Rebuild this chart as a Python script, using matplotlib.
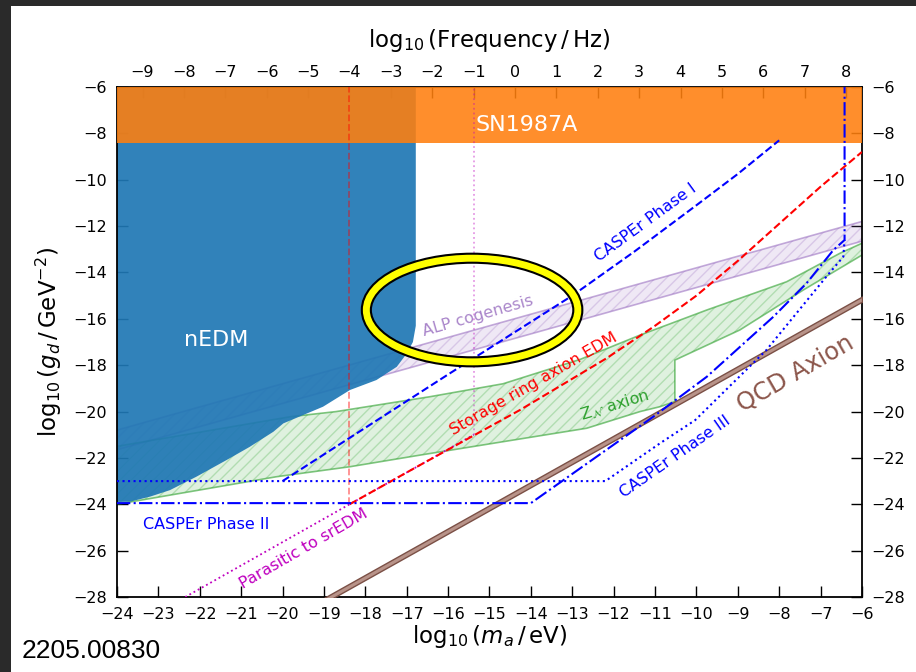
import numpy as np
import matplotlib.pyplot as plt
from matplotlib.patches import Ellipse, Rectangle

# conversion log10(m/eV) -> log10(f/Hz)
EV_TO_HZ = 14.383

# SN1987A band
sn_m = [-24, -6]
sn_low = -8.43
sn_high = -6

# nEDM excluded region
nedm_m = [-24, -16.78, -16.78, -16.85, -17.0, -17.24, -17.73, -18.37, -19.02, -19.5,
          -19.98, -20.22, -20.79, -21.35, -22.08, -22.72, -23.2, -23.69, -24]
nedm_g = [-6, -6, -16.3, -17.0, -17.5, -18.07, -18.64, -19.07, -19.79, -20.15,
          -20.51, -20.87, -21.52, -22.09, -22.81, -23.39, -23.67, -23.89, -23.9]

# ALP cogenesis band
alp_m = [-24, -6]
alp_up = [-20.8, -11.8]
alp_low = [-21.65, -12.65]

# Z_N axion band
zn_up_m = [-24, -19.8, -18.7, -16.44, -14.67, -12.81, -11.36, -9.75, -7.82, -6.53, -6]
zn_up_g = [-21.5, -20.22, -20.0, -19.36, -18.8, -17.75, -16.7, -15.62, -14.4, -13.17, -12.74]
zn_low_m = [-24, -20.14, -18.37, -16.68, -14.67, -12.65, -11.36, -10.88, -10.52, -10.52,
            -8.95, -7.42, -6]
zn_low_g = [-24.0, -22.81, -22.38, -21.88, -21.3, -20.72, -20.0, -19.79, -19.57, -17.78,
            -16.48, -14.76, -13.25]

# CASPEr projections
ph1_m = [-20, -16, -13, -11.5, -10, -9, -8]
ph1_g = [-23, -18.4, -15.0, -13.1, -11.1, -9.75, -8.3]
ph2_m = [-24, -14, -11.04, -9.75, -8.14, -7.34, -6.69, -6.42, -6.42]
ph2_g = [-23.95, -23.95, -20.22, -18.5, -15.91, -14.47, -13.03, -12.6, -6]
ph3_m = [-24, -12.2, -10.88, -10.03, -8.31, -6.86, -6.45, -6.42]
ph3_g = [-23, -23, -21.37, -20.37, -17.35, -14.18, -13.32, -12.6]

# storage ring axion EDM
sr_m = [-18.38, -16.68, -14.26, -12.17, -11, -10, -9, -8, -7, -6]
sr_g = [-24, -22.31, -19.93, -17.7, -16.3, -15.0, -13.5, -11.9, -10.3, -8.8]

# parasitic to srEDM
par_m = [-22.35, -18.38, -16.68, -15.38]
par_g = [-28, -24, -22.31, -21.0]
f_lo = -4   # log10(f/Hz) of frequency markers
f_hi = -1

# QCD axion line: g = m + offset
qcd_m = [-24, -6]
qcd_offset = -9.15
qcd_halfwidth = 0.11

fig = plt.figure(figsize=(9.16, 6.72), dpi=100, facecolor='#2a2a2a')
fig.add_artist(Rectangle((11/916, 0), 905/916, 666/672, transform=fig.transFigure,
                         facecolor='white', edgecolor='none', zorder=-10))
ax = fig.add_axes([0.1277, 0.1116, 0.8133, 0.7589])
ax.set_axisbelow(True)

# bands
ax.fill_between(alp_m, alp_low, alp_up, facecolor=(0.58, 0.40, 0.74, 0.15),
                edgecolor=(0.58, 0.40, 0.74, 0.25), hatch='///', linewidth=0, zorder=1)
ax.plot(alp_m, alp_up, color='tab:purple', alpha=0.55, lw=1.2, zorder=1.1)
ax.plot(alp_m, alp_low, color='tab:purple', alpha=0.55, lw=1.2, zorder=1.1)

zn_m = zn_up_m + zn_low_m[::-1]
zn_g = zn_up_g + zn_low_g[::-1]
ax.fill(zn_m, zn_g, facecolor=(0.17, 0.63, 0.17, 0.15),
        edgecolor=(0.17, 0.63, 0.17, 0.25), hatch='///', linewidth=0, zorder=1)
ax.plot(zn_up_m, zn_up_g, color='tab:green', alpha=0.6, lw=1.2, zorder=1.1)
ax.plot(zn_low_m, zn_low_g, color='tab:green', alpha=0.6, lw=1.2, zorder=1.1)

ax.fill(nedm_m, nedm_g, color='tab:blue', alpha=0.92, lw=0, zorder=2)
ax.fill_between(sn_m, sn_low, sn_high, color='tab:orange', alpha=0.88, lw=0, zorder=3)

# QCD axion
qm = np.array(qcd_m)
ax.fill_between(qm, qm + qcd_offset - qcd_halfwidth, qm + qcd_offset + qcd_halfwidth,
                facecolor='#b89389', edgecolor='#7b5046', lw=1, zorder=4)

# projections
ax.plot(par_m, par_g, color='m', ls=':', lw=1.3, zorder=4)
ax.plot([par_m[-1], par_m[-1]], [par_g[-1], -6], color='m', ls=':', lw=1.3, alpha=0.4, zorder=4)
ax.plot([f_lo - EV_TO_HZ] * 2, [-24, -6], color='red', ls='--', lw=1.3, alpha=0.45, zorder=4)
ax.plot(sr_m, sr_g, color='red', ls='--', lw=1.5, zorder=5)
ax.plot(ph1_m, ph1_g, color='blue', ls='--', lw=1.5, zorder=5)
ax.plot(ph2_m, ph2_g, color='blue', ls='-.', lw=1.5, zorder=5)
ax.plot(ph3_m, ph3_g, color='blue', ls=':', lw=1.5, zorder=5)

# labels inside the plot
ax.text(-14.1, -7.65, 'SN1987A', color='white', fontsize=16, ha='center', va='center', zorder=6)
ax.text(-21.6, -16.9, 'nEDM', color='white', fontsize=16, ha='center', va='center', zorder=6)
ax.text(-7.6, -18.35, 'QCD Axion', color='tab:brown', fontsize=17.5, rotation=30,
        ha='center', va='center', zorder=6)
ax.text(-11.24, -11.87, 'CASPEr Phase I', color='blue', fontsize=11.5, rotation=36,
        ha='center', va='center', zorder=6)
ax.text(-23.37, -24.87, 'CASPEr Phase II', color='blue', fontsize=11.5,
        ha='left', va='center', zorder=6)
ax.text(-10.52, -21.96, 'CASPEr Phase III', color='blue', fontsize=11.5, rotation=35,
        ha='center', va='center', zorder=6)
ax.text(-13.93, -18.81, 'Storage ring axion EDM', color='red', fontsize=11.5, rotation=30,
        ha='center', va='center', zorder=6)
ax.text(-19.48, -25.93, 'Parasitic to srEDM', color='m', fontsize=11.5, rotation=30,
        ha='center', va='center', zorder=6)
ax.text(-15.28, -15.88, 'ALP cogenesis', color='tab:purple', alpha=0.8, fontsize=11.5,
        rotation=16, ha='center', va='center', zorder=6)
ax.text(-11.97, -19.7, r'Z$_{\mathcal{N}}$ axion', color='tab:green', fontsize=11.5,
        rotation=17, ha='center', va='center', zorder=6)

# highlight ring
ax.add_patch(Ellipse((-15.42, -15.62), 5.11, 4.47, fill=False, edgecolor='black', lw=8, zorder=7))
ax.add_patch(Ellipse((-15.42, -15.62), 5.11, 4.47, fill=False, edgecolor='#ffff00', lw=5, zorder=8))

ax.set_xlim(-24, -6)
ax.set_ylim(-28, -6)
ax.set_xticks(np.arange(-24, -5, 1))
ax.set_yticks(np.arange(-28, -5, 2))
ax.tick_params(direction='in', length=8, width=1, labelsize=11.5, pad=7,
               top=False, right=True, labelright=True)
for s in ax.spines.values():
    s.set_linewidth(1.3)

secax = ax.secondary_xaxis('top', functions=(lambda m: m + EV_TO_HZ, lambda f: f - EV_TO_HZ))
secax.set_xticks(np.arange(-9, 9, 1))
secax.tick_params(direction='in', length=8, width=1, labelsize=11.5, pad=5)
secax.set_xlabel(r'$\log_{10}(\mathrm{Frequency}\,/\,\mathrm{Hz})$', fontsize=16.5, labelpad=13)

ax.set_xlabel(r'$\log_{10}(m_a\,/\,\mathrm{eV})$', fontsize=16.5)
ax.xaxis.label.set_va('center')
ax.xaxis.set_label_coords(0.5, -0.077)
ax.set_ylabel(r'$\log_{10}(g_d\,/\,\mathrm{GeV}^{-2})$', fontsize=16.5)
ax.yaxis.label.set_va('center')
ax.yaxis.set_label_coords(-0.091, 0.5)

fig.text(22/916, 1 - 658/672, '2205.00830', fontsize=19, family='Liberation Sans',
         ha='left', va='baseline')

fig.savefig('out.png', dpi=100, facecolor=fig.get_facecolor())
